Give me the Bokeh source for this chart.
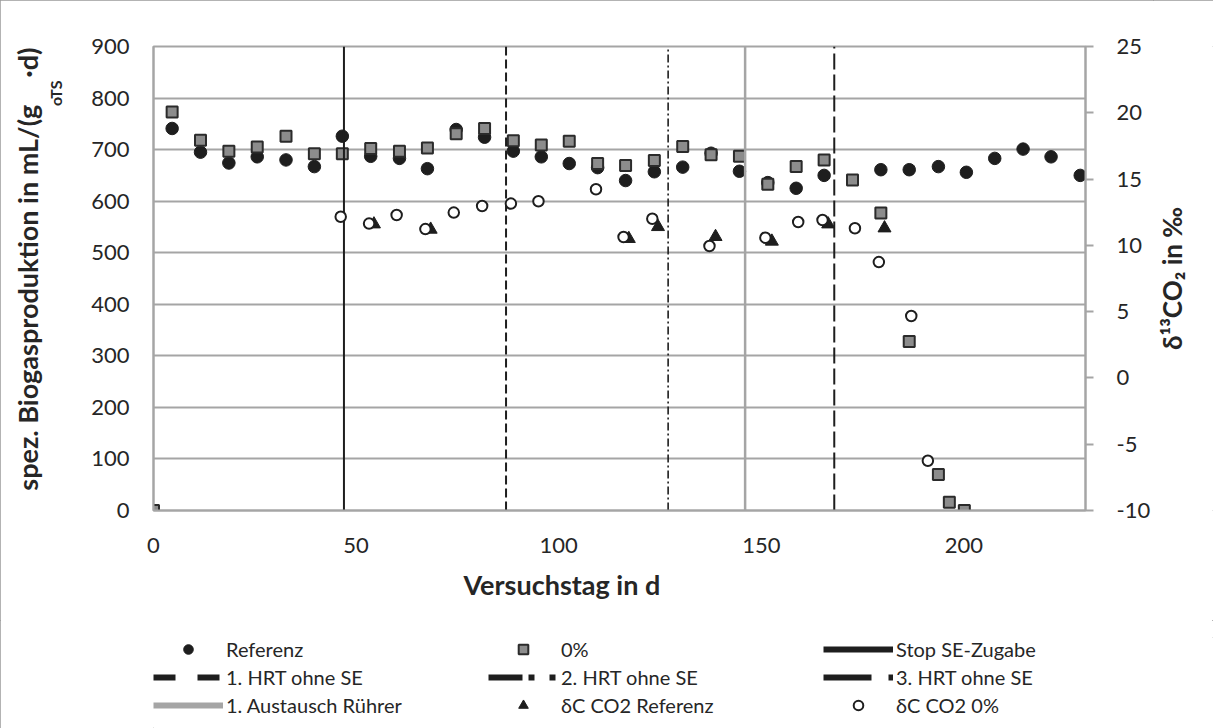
import numpy as np
from bokeh.plotting import figure
from bokeh.layouts import column, row
from bokeh.models import (Range1d, LinearAxis, FixedTicker, Legend, LegendItem,
                          Title, PrintfTickFormatter)
from bokeh.embed import file_html
from bokeh.resources import INLINE

# ---------------- data ----------------
ref_days = [4.6, 11.6, 18.6, 25.6, 32.7, 39.7, 46.6, 53.6, 60.7, 67.6,
            74.7, 81.7, 88.8, 95.7, 102.6, 109.6, 116.5, 123.6, 130.6, 137.6,
            144.6, 151.6, 158.6, 165.5, 179.5, 186.5, 193.7, 200.6, 207.6, 214.6,
            221.5, 228.7]
ref_vals = [741, 695, 674, 686, 680, 667, 726, 687, 683, 663,
            739, 724, 697, 686, 673, 665, 640, 657, 666, 693,
            658, 636, 625, 650, 661, 661, 667, 656, 683, 701,
            686, 650]

p0_days = [0, 4.6, 11.6, 18.6, 25.6, 32.7, 39.7, 46.6, 53.6, 60.7,
           67.6, 74.7, 81.7, 88.8, 95.7, 102.6, 109.6, 116.5, 123.6, 130.6,
           137.6, 144.6, 151.6, 158.6, 165.5, 172.5, 179.5, 186.5, 193.7, 196.4,
           200.1]
p0_vals = [0, 773, 718, 697, 705, 726, 692, 692, 702, 697,
           703, 731, 741, 717, 709, 716, 673, 669, 679, 706,
           690, 687, 633, 667, 680, 641, 577, 328, 70, 16,
           0]

dref_days = [54.4, 68.4, 117.3, 124.5, 138.7, 152.6, 166.5, 180.4]
dref_vals = [11.6, 11.2, 10.5, 11.4, 10.65, 10.3, 11.6, 11.3]

d0_days = [46.2, 53.2, 60.0, 67.1, 74.1, 81.1, 88.2, 95.0, 109.2, 116.0,
           123.1, 137.2, 151.0, 159.1, 165.1, 173.1, 179.0, 187.0, 191.1]
d0_vals = [12.16, 11.64, 12.29, 11.23, 12.47, 12.97, 13.15, 13.33, 14.23, 10.63,
           12.01, 9.95, 10.58, 11.76, 11.91, 11.29, 8.74, 4.67, -6.25]

event_days = [47, 87, 127, 146, 168]
event_names = ["Stop SE-Zugabe", "1. HRT ohne SE", "2. HRT ohne SE",
               "1. Austausch Rührer", "3. HRT ohne SE"]
series_names = ["Referenz", "0%", "δC CO2 Referenz", "δC CO2 0%"]

x_ticks = [0, 50, 100, 150, 200]
x_max = 230
y_ticks = [0, 100, 200, 300, 400, 500, 600, 700, 800, 900]
y2_ticks = [-10, -5, 0, 5, 10, 15, 20, 25]

x_title = "Versuchstag in d"
y_title_main = "spez. Biogasproduktion in mL/(g"
y_title_sub = "oTS"
y_title_end = "·d)"
y2_title = "δ¹³CO₂ in ‰"

# ---------------- style ----------------
GRAY = "#a5a5a5"
INK = "#1e1e1e"
TXT = "#262626"
FONT = "Lato"

ref_style = dict(marker="circle", fill_color=INK, line_color=INK)
p0_style = dict(marker="square", fill_color="#8c8c8c", line_color="#2b2b2b", line_width=2)
dref_style = dict(marker="triangle", fill_color=INK, line_color=INK)
d0_style = dict(marker="circle", fill_color="white", line_color=INK, line_width=2)

def strip(w, h, **kw):
    f = figure(width=w, height=h, x_range=Range1d(0, 1), y_range=Range1d(0, 1),
               output_backend="svg", toolbar_location=None,
               x_axis_location=None, y_axis_location=None, **kw)
    f.outline_line_color = None
    f.grid.visible = False
    return f

MAIN_W, MAIN_H = 1153, 620

p = figure(width=MAIN_W, height=MAIN_H,
           x_range=Range1d(x_ticks[0], x_max),
           y_range=Range1d(y_ticks[0], y_ticks[-1]),
           output_backend="svg", toolbar_location=None,
           min_border_left=153, min_border_right=67,
           min_border_top=46, min_border_bottom=110)
p.background_fill_color = "white"
p.border_fill_color = "white"
p.outline_line_color = GRAY
p.outline_line_width = 2

p.extra_y_ranges = {"d13": Range1d(y2_ticks[0], y2_ticks[-1])}

p.xgrid.visible = False
p.ygrid.ticker = FixedTicker(ticks=y_ticks)
p.ygrid.grid_line_color = GRAY
p.ygrid.grid_line_width = 2

ax_left = p.left[0]
ax_bottom = p.below[0]
ax_right = LinearAxis(y_range_name="d13", ticker=FixedTicker(ticks=y2_ticks),
                      formatter=PrintfTickFormatter(format="%d"))
p.add_layout(ax_right, "right")

for ax in (ax_left, ax_bottom, ax_right):
    ax.axis_line_color = GRAY
    ax.axis_line_width = 2
    ax.major_tick_line_color = GRAY
    ax.major_tick_line_width = 2
    ax.minor_tick_line_color = None
    ax.major_tick_in = 0
    ax.major_label_text_font = FONT
    ax.major_label_text_font_size = "22px"
    ax.major_label_text_color = TXT

ax_bottom.ticker = FixedTicker(ticks=x_ticks)
ax_bottom.major_tick_out = 0
ax_bottom.major_label_standoff = 27

ax_left.ticker = FixedTicker(ticks=y_ticks)
ax_left.major_tick_out = 0
ax_left.major_label_standoff = 24
# invisible spacer so the rotated title sits where the reference has it
ax_left.axis_label = "\u00a0"
ax_left.axis_label_text_font_size = "1px"
ax_left.axis_label_standoff = 20

ax_right.major_tick_out = 8
ax_right.major_label_standoff = 23

# ---------------- glyphs ----------------
r_ref = p.scatter(ref_days, ref_vals, size=12.5, **ref_style)
r_p0 = p.scatter(p0_days, p0_vals, size=11, **p0_style)

ev_style = [
    dict(line_color=INK, line_width=2),
    dict(line_color=INK, line_width=2, line_dash="9 4"),
    dict(line_color=INK, line_width=1.6, line_dash="8 3 2 3"),
    dict(line_color=GRAY, line_width=2.5),
    dict(line_color=INK, line_width=2, line_dash="16 5"),
]
for d, st in zip(event_days, ev_style):
    p.line([d, d], [y_ticks[0], y_ticks[-1]], **st)

r_dref = p.scatter(dref_days, dref_vals, y_range_name="d13", size=13, **dref_style)
r_d0 = p.scatter(d0_days, d0_vals, y_range_name="d13", size=10.5, **d0_style)

# ---------------- titles ----------------
p.add_layout(Title(text=y_title_sub, align="right", offset=34, standoff=0,
                   vertical_align="bottom", text_font=FONT, text_font_style="bold",
                   text_font_size="16px", text_color=TXT), "left")
p.add_layout(Title(text=y_title_main + "\u2002\u2002" + y_title_end, align="right",
                   offset=1, standoff=0, vertical_align="bottom", text_font=FONT,
                   text_font_style="bold", text_font_size="27px", text_color=TXT),
             "left")
p.add_layout(Title(text=x_title, align="left", offset=310, standoff=25,
                   vertical_align="top", text_font=FONT, text_font_style="bold",
                   text_font_size="27px", text_color=TXT), "below")

# right title strip: a left-side title of a narrow canvas reads bottom-to-top
pr = strip(1213 - MAIN_W, MAIN_H, min_border_left=30, min_border_right=0,
           min_border_top=0, min_border_bottom=71)
pr.add_layout(Title(text=y2_title, align="center", vertical_align="bottom", standoff=0,
                    text_font=FONT, text_font_style="bold", text_font_size="26px",
                    text_color=TXT), "left")

# ---------------- legend strip ----------------
pl = strip(1213, 728 - MAIN_H, min_border=0, min_border_left=153, min_border_top=17)
NAN1 = np.array([np.nan])
NAN2 = np.array([np.nan, np.nan])
l_ref = pl.scatter(NAN1, NAN1, size=10, **ref_style)
l_p0 = pl.scatter(NAN1, NAN1, size=10, **p0_style)
l_dref = pl.scatter(NAN1, NAN1, size=10, **dref_style)
l_d0 = pl.scatter(NAN1, NAN1, size=10, **d0_style)
leg_style = [
    dict(line_color=INK, line_width=6),
    dict(line_color=INK, line_width=6, line_dash="22 22"),
    dict(line_color=INK, line_width=6, line_dash="34 6 6 15 6 20"),
    dict(line_color=GRAY, line_width=6),
    dict(line_color=INK, line_width=6, line_dash="48 17 5 30"),
]
l_ev = [pl.line(NAN2, NAN2, **st) for st in leg_style]

items = [(series_names[0], l_ref), (series_names[1], l_p0), (event_names[0], l_ev[0]),
         (event_names[1], l_ev[1]), (event_names[2], l_ev[2]), (event_names[4], l_ev[4]),
         (event_names[3], l_ev[3]), (series_names[2], l_dref), (series_names[3], l_d0)]
pl.add_layout(Legend(items=[LegendItem(label=t, renderers=[r]) for t, r in items],
                     location="top_left", orientation="horizontal", ncols=3,
                     glyph_width=70, glyph_height=24, label_height=24, label_width=258,
                     label_standoff=3, spacing=4, padding=0, margin=0,
                     border_line_color=None, background_fill_alpha=0,
                     label_text_font=FONT, label_text_font_size="20px",
                     label_text_color=TXT), "center")

root = column(row(p, pr, spacing=0), pl, spacing=0,
              styles={"outline": "1px solid #9a9a9a", "outline-offset": "-1px",
                      "background": "white"})

open("out.html", "w").write(file_html(root, INLINE))
